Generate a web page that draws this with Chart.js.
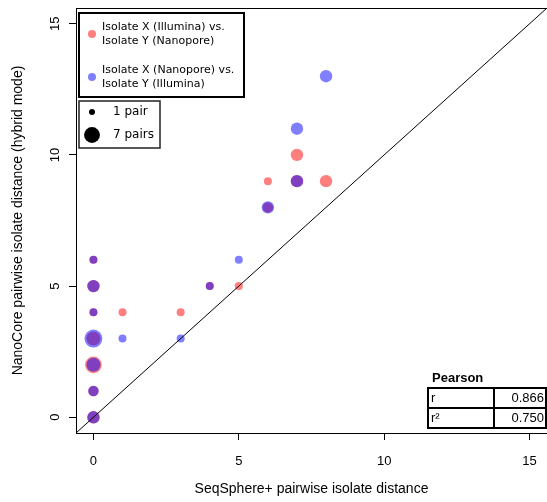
<!DOCTYPE html>
<html>
<head>
<meta charset="utf-8">
<script src="https://cdn.jsdelivr.net/npm/chart.js@4.4.1/dist/chart.umd.min.js"></script>
<style>
  html, body { margin: 0; padding: 0; background: #fff; }
</style>
</head>
<body>
<canvas id="chart" width="547" height="502"></canvas>
<script>
// --- data ---
// Isolate X (Illumina) vs Isolate Y (Nanopore)
const redX = [0, 0, 0, 0, 0, 0, 0, 1, 3, 4, 5, 6, 6, 7, 7, 8];
const redY = [6, 5, 4, 3, 2, 1, 0, 4, 4, 5, 5, 9, 8, 10, 9, 9];
const redN = [1, 3, 1, 4, 6, 2, 3, 1, 1, 1, 1, 1, 2, 3, 3, 3];
// Isolate X (Nanopore) vs Isolate Y (Illumina)
const blueX = [0, 0, 0, 0, 0, 0, 0, 1, 3, 4, 5, 6, 7, 7, 8];
const blueY = [6, 5, 4, 3, 2, 1, 0, 3, 3, 5, 6, 8, 11, 9, 13];
const blueN = [1, 3, 1, 7, 4, 2, 3, 1, 1, 1, 1, 3, 3, 3, 3];

const axisTicks = [0, 5, 10, 15];
const axisMin = -0.6, axisMax = 15.6;
const legendLabels = ["Isolate X (Illumina) vs.", "Isolate Y (Nanopore)", "Isolate X (Nanopore) vs.", "Isolate Y (Illumina)"];
const sizeLabels = ["1 pair", "7 pairs"];
const sizeCounts = [1, 7];
const pearsonRows = [["r", "0.866"], ["r\u00b2", "0.750"]];

const RED = "rgba(255, 0, 0, 0.5)";
const BLUE = "rgba(0, 0, 255, 0.5)";
const AXIS_FONT = "'Liberation Sans', Arial, sans-serif";
const LEG_FONT = "'DejaVu Sans', sans-serif";

function radiusFor(n) { return 1 + 3 * Math.sqrt(n); }

function toPoints(xs, ys) { return xs.map((x, i) => ({ x: x, y: ys[i] })); }

// draws frame, tick labels (R style), legends and the Pearson table
const decor = {
  id: "decor",
  afterDraw(chart) {
    const ctx = chart.ctx;
    const a = chart.chartArea;
    const xs = chart.scales.x;
    const ys = chart.scales.y;
    ctx.save();

    // top frame line (left/bottom come from the axis borders)
    ctx.strokeStyle = "#000";
    ctx.lineWidth = 1;
    ctx.beginPath();
    ctx.moveTo(a.left, a.top + 0.5);
    ctx.lineTo(a.right, a.top + 0.5);
    ctx.stroke();

    // tick labels
    ctx.fillStyle = "#000";
    ctx.font = "13px " + AXIS_FONT;
    ctx.textAlign = "center";
    ctx.textBaseline = "middle";
    axisTicks.forEach(v => {
      ctx.fillText(String(v), xs.getPixelForValue(v), 461);
      const py = ys.getPixelForValue(v);
      ctx.save();
      ctx.translate(55, py);
      ctx.rotate(-Math.PI / 2);
      ctx.fillText(String(v), 0, 0);
      ctx.restore();
    });

    // colour legend
    ctx.lineWidth = 2;
    ctx.strokeRect(79, 13, 165, 84);
    ctx.font = "11px " + LEG_FONT;
    ctx.textAlign = "left";
    const legY = [27, 41, 70, 84];
    legendLabels.forEach((t, i) => ctx.fillText(t, 102, legY[i]));
    [[RED, 34], [BLUE, 77]].forEach(([c, y]) => {
      ctx.fillStyle = c;
      ctx.beginPath();
      ctx.arc(92, y, 4, 0, Math.PI * 2);
      ctx.fill();
    });

    // size legend
    ctx.strokeStyle = "#222";
    ctx.lineWidth = 1.5;
    ctx.strokeRect(79, 101, 81, 47);
    const sizeY = [112, 135];
    ctx.fillStyle = "#000";
    ctx.font = "12px " + LEG_FONT;
    sizeLabels.forEach((t, i) => {
      ctx.beginPath();
      ctx.arc(92, sizeY[i], radiusFor(sizeCounts[i]) - 1, 0, Math.PI * 2);
      ctx.fill();
      ctx.fillText(t, 113, sizeY[i]);
    });

    // Pearson table
    ctx.font = "bold 13px " + AXIS_FONT;
    ctx.fillText("Pearson", 432, 378);
    ctx.fillStyle = "#fff";
    ctx.fillRect(428, 388, 118, 40);
    ctx.strokeStyle = "#000";
    ctx.lineWidth = 2;
    ctx.strokeRect(428, 388, 118, 40);
    ctx.beginPath();
    ctx.moveTo(428, 408); ctx.lineTo(546, 408);
    ctx.moveTo(494, 388); ctx.lineTo(494, 428);
    ctx.stroke();
    ctx.fillStyle = "#000";
    ctx.font = "13px " + AXIS_FONT;
    pearsonRows.forEach((row, i) => {
      const ry = 398 + i * 20;
      ctx.textAlign = "left";
      ctx.fillText(row[0], 431, ry);
      ctx.textAlign = "right";
      ctx.fillText(row[1], 544, ry);
    });
    ctx.restore();
  }
};

const scaleBase = {
  type: "linear",
  min: axisMin,
  max: axisMax,
  afterBuildTicks: s => { s.ticks = axisTicks.map(v => ({ value: v })); },
  ticks: { display: false },
  grid: { drawOnChartArea: false, drawTicks: true, tickLength: 7, color: "#000" },
  border: { display: true, color: "#000", width: 1 }
};

new Chart(document.getElementById("chart"), {
  type: "scatter",
  data: {
    datasets: [
      {
        label: "y = x",
        data: [{ x: axisMin, y: axisMin }, { x: axisMax, y: axisMax }],
        showLine: true,
        borderColor: "#000",
        borderWidth: 1,
        pointRadius: 0,
        order: 0
      },
      {
        label: "Nanopore vs Illumina",
        data: toPoints(blueX, blueY),
        backgroundColor: BLUE,
        borderWidth: 0,
        pointRadius: blueN.map(radiusFor),
        order: 1
      },
      {
        label: "Illumina vs Nanopore",
        data: toPoints(redX, redY),
        backgroundColor: RED,
        borderWidth: 0,
        pointRadius: redN.map(radiusFor),
        order: 2
      }
    ]
  },
  options: {
    responsive: false,
    animation: false,
    layout: { autoPadding: false, padding: { top: 8, right: 0, left: 0, bottom: 0 } },
    plugins: { legend: { display: false }, tooltip: { enabled: false } },
    scales: {
      x: Object.assign({}, scaleBase, {
        position: "bottom",
        afterFit: s => { s.height = 69; },
        title: { display: true, text: "SeqSphere+ pairwise isolate distance", color: "#000",
                 padding: { top: 0, bottom: 4 }, font: { family: AXIS_FONT, size: 14 } }
      }),
      y: Object.assign({}, scaleBase, {
        position: "left",
        afterFit: s => { s.width = 76; },
        title: { display: true, text: "NanoCore pairwise isolate distance (hybrid mode)", color: "#000",
                 padding: { top: 10, bottom: 0 }, font: { family: AXIS_FONT, size: 14 } }
      })
    }
  },
  plugins: [decor]
});
</script>
</body>
</html>
